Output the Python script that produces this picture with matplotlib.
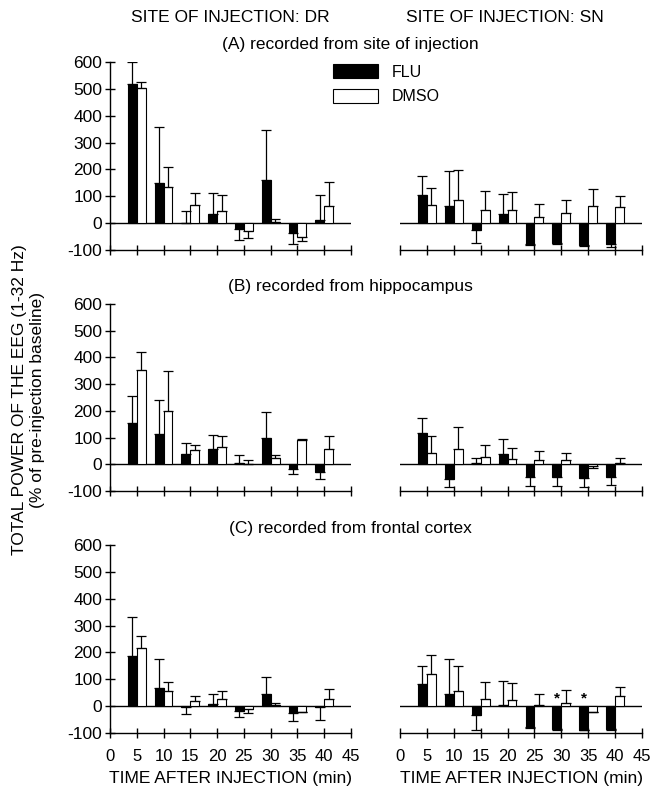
import numpy as np
import matplotlib
matplotlib.use("Agg")
import matplotlib.pyplot as plt

plt.rcParams['font.family'] = ['Liberation Sans', 'DejaVu Sans']
plt.rcParams['axes.unicode_minus'] = False

times = [5, 10, 15, 20, 25, 30, 35, 40]

# (A) recorded from site of injection
a_dr_flu = [518, 148, 0, 34, -21, 161, -35, 12]
a_dr_flu_err = [82, 211, 47, 77, 42, 184, 43, 94]
a_dr_dmso = [503, 135, 68, 46, -31, 5, -53, 65]
a_dr_dmso_err = [22, 74, 44, 57, 26, 10, 15, 88]
a_sn_flu = [106, 65, -27, 33, -77, -75, -81, -79]
a_sn_flu_err = [69, 130, 48, 75, 3, 3, 3, 10]
a_sn_dmso = [69, 86, 49, 49, 24, 39, 65, 60]
a_sn_dmso_err = [61, 112, 72, 67, 46, 49, 63, 40]

# (B) recorded from hippocampus
b_dr_flu = [155, 114, 37, 59, 6, 98, -19, -28]
b_dr_flu_err = [99, 126, 41, 52, 28, 98, 16, 27]
b_dr_dmso = [354, 200, 53, 64, 2, 22, 92, 57]
b_dr_dmso_err = [65, 148, 20, 42, 13, 13, 3, 48]
b_sn_flu = [118, -54, 4, 39, -49, -49, -51, -46]
b_sn_flu_err = [55, 31, 20, 57, 34, 34, 34, 30]
b_sn_dmso = [43, 58, 26, 21, 16, 15, -8, 6]
b_sn_dmso_err = [63, 83, 45, 40, 35, 26, 6, 18]

# (C) recorded from frontal cortex
c_dr_flu = [187, 68, -3, 9, -18, 44, -24, -3]
c_dr_flu_err = [144, 106, 25, 36, 22, 66, 30, 47]
c_dr_dmso = [215, 56, 21, 26, -12, 5, -20, 27]
c_dr_dmso_err = [48, 34, 18, 31, 13, 6, 3, 35]
c_sn_flu = [82, 47, -32, 3, -77, -86, -87, -84]
c_sn_flu_err = [69, 128, 57, 92, 3, 3, 3, 6]
c_sn_dmso = [119, 55, 25, 24, 3, 12, -20, 37]
c_sn_dmso_err = [72, 96, 65, 64, 43, 48, 3, 35]

c_sn_stars = [30, 35]

panel_titles = ["(A) recorded from site of injection",
                "(B) recorded from hippocampus",
                "(C) recorded from frontal cortex"]

panels = [
    [(a_dr_flu, a_dr_flu_err, a_dr_dmso, a_dr_dmso_err),
     (a_sn_flu, a_sn_flu_err, a_sn_dmso, a_sn_dmso_err)],
    [(b_dr_flu, b_dr_flu_err, b_dr_dmso, b_dr_dmso_err),
     (b_sn_flu, b_sn_flu_err, b_sn_dmso, b_sn_dmso_err)],
    [(c_dr_flu, c_dr_flu_err, c_dr_dmso, c_dr_dmso_err),
     (c_sn_flu, c_sn_flu_err, c_sn_dmso, c_sn_dmso_err)],
]

W, H = 650, 799
fig = plt.figure(figsize=(W / 100, H / 100), dpi=100)

# pixel boxes: (top of 600, bottom at -100)
rows_px = [(62, 250), (304, 491), (545, 733)]
cols_px = [(110, 351), (400, 642)]

bw = 1.65


def one_sided(vals, errs):
    vals = np.array(vals, dtype=float)
    errs = np.array(errs, dtype=float)
    lower = np.where(vals < 0, errs, 0)
    upper = np.where(vals >= 0, errs, 0)
    return [lower, upper]


handles = None
for r, (ytop, ybot) in enumerate(rows_px):
    for c, (xl, xr) in enumerate(cols_px):
        ax = fig.add_axes([xl / W, 1 - ybot / H, (xr - xl) / W, (ybot - ytop) / H])
        flu, flu_err, dmso, dmso_err = panels[r][c]
        t = np.array(times)
        b1 = ax.bar(t - bw / 2, flu, bw, color='black', edgecolor='black', linewidth=0.8)
        b2 = ax.bar(t + bw / 2, dmso, bw, color='white', edgecolor='black', linewidth=0.8)
        ax.errorbar(t - bw / 2, flu, yerr=one_sided(flu, flu_err), fmt='none',
                    ecolor='black', elinewidth=0.9, capsize=3.5, capthick=0.9)
        ax.errorbar(t + bw / 2, dmso, yerr=one_sided(dmso, dmso_err), fmt='none',
                    ecolor='black', elinewidth=0.9, capsize=3.5, capthick=0.9)
        if handles is None:
            handles = [b1, b2]
        ax.axhline(0, color='black', linewidth=1.0, zorder=0)
        ax.set_xlim(0, 45)
        ax.set_ylim(-100, 600)
        ax.set_xticks(range(0, 46, 5))
        ax.spines['top'].set_visible(False)
        ax.spines['right'].set_visible(False)
        ax.spines['bottom'].set_linewidth(1.0)
        ax.tick_params(axis='x', direction='inout', length=7, width=1.0,
                       labelsize=12, pad=8)
        if c == 0:
            ax.set_yticks(range(-100, 601, 100))
            ax.tick_params(axis='y', direction='inout', length=7, width=1.0,
                           labelsize=12.5, pad=2)
            ax.spines['left'].set_linewidth(1.0)
        else:
            ax.spines['left'].set_visible(False)
            ax.set_yticks([])
        if r < 2:
            ax.set_xticklabels([])
        else:
            ax.set_xlabel("TIME AFTER INJECTION (min)", fontsize=12.5, labelpad=5)
        if r == 2 and c == 1:
            for s in c_sn_stars:
                ax.text(s - bw / 2, 2, '*', ha='center', va='bottom', fontsize=11,
                        fontweight='bold')

    fig.text(350 / W, 1 - (rows_px[r][0] - 17) / H, panel_titles[r], ha='center',
             va='center', fontsize=12.5)

fig.text(230 / W, 1 - 17 / H, "SITE OF INJECTION: DR", ha='center', va='center', fontsize=12.5)
fig.text(505 / W, 1 - 17 / H, "SITE OF INJECTION: SN", ha='center', va='center', fontsize=12.5)

fig.text(20 / W, 1 - 400 / H, "TOTAL POWER OF THE EEG (1-32 Hz)", rotation=90,
         ha='center', va='center', fontsize=12.5)
fig.text(38 / W, 1 - 400 / H, "(% of pre-injection baseline)", rotation=90,
         ha='center', va='center', fontsize=12.5)

fig.legend(handles=handles, labels=['FLU', 'DMSO'], loc='upper left',
           bbox_to_anchor=(333 / W, 1 - 64 / H), frameon=False, fontsize=11.5,
           borderpad=0, borderaxespad=0,
           handlelength=2.8, handleheight=1.0, labelspacing=0.56, handletextpad=0.9)

fig.savefig("out.png", dpi=100)
